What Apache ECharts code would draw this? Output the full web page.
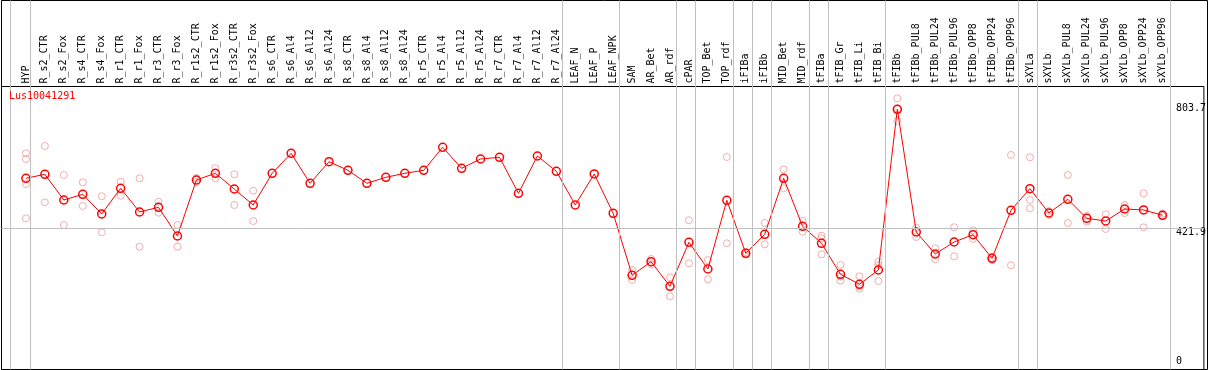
<!DOCTYPE html>
<html><head><meta charset="utf-8">
<script src="https://cdn.jsdelivr.net/npm/echarts@6/dist/echarts.min.js"></script>
<style>html,body{margin:0;padding:0;background:#fff}#c{width:1209px;height:370px}</style>
</head><body><div id="c"></div>
<script>
const chartTitle = 'Lus10041291';
const categories = ['HYP','R_s2_CTR','R_s2_Fox','R_s4_CTR','R_s4_Fox','R_r1_CTR','R_r1_Fox','R_r3_CTR','R_r3_Fox','R_r1s2_CTR','R_r1s2_Fox','R_r3s2_CTR','R_r3s2_Fox','R_s6_CTR','R_s6_Al4','R_s6_Al12','R_s6_Al24','R_s8_CTR','R_s8_Al4','R_s8_Al12','R_s8_Al24','R_r5_CTR','R_r5_Al4','R_r5_Al12','R_r5_Al24','R_r7_CTR','R_r7_Al4','R_r7_Al12','R_r7_Al24','LEAF_N','LEAF_P','LEAF_NPK','SAM','AR_Bet','AR_rdf','cPAR','TOP_Bet','TOP_rdf','iFIBa','iFIBb','MID_Bet','MID_rdf','tFIBa','tFIB_Gr','tFIB_Li','tFIB_Bi','tFIBb','tFIBb_PUL8','tFIBb_PUL24','tFIBb_PUL96','tFIBb_OPP8','tFIBb_OPP24','tFIBb_OPP96','sXYLa','sXYLb','sXYLb_PUL8','sXYLb_PUL24','sXYLb_PUL96','sXYLb_OPP8','sXYLb_OPP24','sXYLb_OPP96'];
const means = [575.6,587.9,508.9,526.4,465.9,544.9,472.0,486.5,398.2,570.4,591.0,542.7,493.5,591.0,652.5,560.3,626.7,600.2,560.3,578.7,591.0,600.2,671.0,606.4,635.0,640.2,529.5,644.2,597.2,493.5,588.9,468.0,277.4,319.2,243.5,378.8,296.7,508.0,345.0,403.4,575.6,428.0,375.8,280.4,249.7,293.7,787.8,410.5,342.9,379.8,402.2,329.6,477.2,543.7,468.9,511.1,452.6,444.3,481.2,478.2,461.9];
const replicates = [
  [652.5,635.0,558.1,452.6],[675.0,501.8],[585.8,432.0],[563.3,490.5],[520.3,409.6],
  [565.2,522.1],[575.6,365.3],[503.7,469.9],[432.0,365.3],[576.6,564.3],
  [606.4,575.6],[587.9,493.5],[537.5,444.3],
  [],[],[],[],[],[],[],[],[],[],[],[],[],[],[],[],[],[],[],
  [293.7,262.9],[327.5,311.2],[271.2,212.8],[446.5,314.3],[324.4,265.1],
  [641.1,375.8],[349.0,341.3],[438.2,372.7],[603.3,544.9],[444.3,411.4],
  [399.1,391.1,341.9],[309.0,273.1,260.8],[274.3,243.5,236.2],[319.2,309.0,259.8],
  [821.6,790.0,751.8],[423.7,395.1],[360.4,326.6],[425.0,335.8],[415.7,389.0],
  [333.6,324.4],[647.3,308.1],[640.2,508.9,483.4],[475.1,462.8],[585.8,438.2],
  [460.6,442.2],[464.9,419.7],[493.5,468.9],[529.5,425.0],[467.0,459.7]
];
const groupEndsAfter = ['HYP','R_r7_Al24','LEAF_NPK','AR_rdf','cPAR','TOP_rdf','iFIBa','iFIBb','MID_rdf','tFIBa','tFIB_Bi','tFIBb_OPP96','sXYLa','sXYLb_OPP96'];
const yTickLabels = [0, 421.9, 803.7];
const referenceValue = 421.9;

const FONT = 'DejaVu Sans Mono';
const X_MIN = -1.2895, X_MAX = 62.184;
const Y_MIN = -12.3, Y_MAX = 857.9;
const SEP_OFFSET = 0.23;

const sepPositions = [-1.05].concat(groupEndsAfter.map(n => categories.indexOf(n))).map(i => i + SEP_OFFSET);
const repData = [];
replicates.forEach((arr, i) => arr.forEach(v => repData.push([i, v])));
const meanData = means.map((v, i) => [i, v]);
const idx = categories.map((_, i) => i);

const chart = echarts.init(document.getElementById('c'), null, {renderer: 'canvas'});
chart.setOption({
  animation: false,
  backgroundColor: '#fff',
  title: {
    text: chartTitle, left: 9, top: 91, padding: 0,
    textStyle: {color: '#ff0000', fontFamily: FONT, fontSize: 10, fontWeight: 'normal'}
  },
  grid: [
    {left: 1.5, right: 1.5, top: 0.5, bottom: 0.5, show: true, borderColor: '#000', borderWidth: 1, backgroundColor: 'transparent'},
    {left: 1.5, right: 1.5, top: 86.5, bottom: 0.5, show: true, borderColor: '#000', borderWidth: 1, backgroundColor: 'transparent'}
  ],
  xAxis: [
    {gridIndex: 0, type: 'value', min: X_MIN, max: X_MAX, show: false},
    {gridIndex: 1, type: 'value', min: X_MIN, max: X_MAX, position: 'top',
      axisLine: {show: false}, axisTick: {show: false}, splitLine: {show: false},
      axisLabel: {customValues: idx, rotate: 90, margin: 3, color: '#000', fontFamily: FONT, fontSize: 10,
        formatter: v => categories[Math.round(v)] || ''}}
  ],
  yAxis: [
    {gridIndex: 0, type: 'value', min: 0, max: 1, show: false},
    {gridIndex: 1, type: 'value', min: Y_MIN, max: Y_MAX, position: 'right',
      axisLine: {show: false}, axisTick: {show: false}, splitLine: {show: false},
      axisLabel: {customValues: yTickLabels, inside: true, align: 'left', margin: 28, color: '#000',
        fontFamily: FONT, fontSize: 10,
        formatter: v => v === 0 ? '{b|0}' : '{t|' + v + '}',
        rich: {
          t: {padding: [9, 0, 0, 0], fontFamily: FONT, fontSize: 10, color: '#000'},
          b: {padding: [0, 0, 9, 0], fontFamily: FONT, fontSize: 10, color: '#000'}
        }}}
  ],
  series: [
    {type: 'line', xAxisIndex: 0, yAxisIndex: 0, data: [], silent: true, z: 1,
      markLine: {silent: true, symbol: 'none', label: {show: false},
        lineStyle: {color: '#c0c0c0', width: 1, type: 'solid'},
        data: sepPositions.map(x => ({xAxis: x}))}},
    {type: 'line', xAxisIndex: 1, yAxisIndex: 1, data: [], silent: true, z: 1,
      markLine: {silent: true, symbol: 'none', label: {show: false},
        lineStyle: {color: '#c0c0c0', width: 1, type: 'solid'},
        data: [{yAxis: referenceValue}]}},
    {type: 'scatter', xAxisIndex: 1, yAxisIndex: 1, data: repData, symbol: 'circle', symbolSize: 7, z: 2,
      itemStyle: {color: 'rgba(0,0,0,0)', borderColor: '#ef9a9a', borderWidth: 1}},
    {type: 'line', xAxisIndex: 1, yAxisIndex: 1, data: meanData, symbol: 'circle', symbolSize: 8, z: 3,
      lineStyle: {color: '#ff0000', width: 1},
      itemStyle: {color: 'rgba(0,0,0,0)', borderColor: '#ff0000', borderWidth: 1.5}}
  ]
});
</script></body></html>
